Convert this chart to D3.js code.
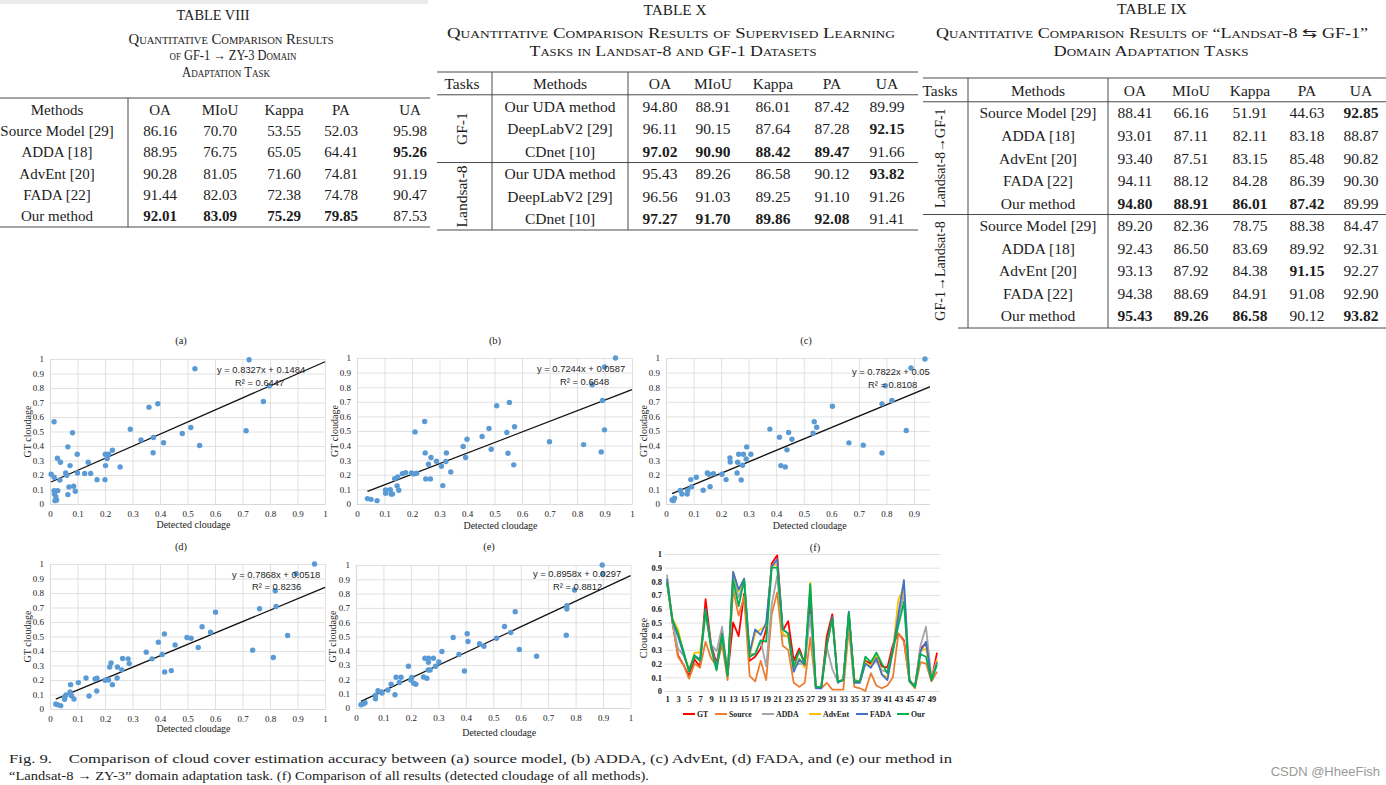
<!DOCTYPE html>
<html><head><meta charset="utf-8">
<script src="https://cdn.jsdelivr.net/npm/d3@7/dist/d3.min.js"></script>
<style>
html,body{margin:0;padding:0;background:#fff;}
svg{display:block;}
</style></head>
<body>
<svg id="chart" width="1386" height="785"></svg>
<script>
// ================= DATA =================
const tableHeaders = ["OA","MIoU","Kappa","PA","UA"];

// TABLE VIII
const t8Methods = ["Source Model [29]","ADDA [18]","AdvEnt [20]","FADA [22]","Our method"];
const t8Values = [
  [86.16,70.70,53.55,52.03,95.98],
  [88.95,76.75,65.05,64.41,95.26],
  [90.28,81.05,71.60,74.81,91.19],
  [91.44,82.03,72.38,74.78,90.47],
  [92.01,83.09,75.29,79.85,87.53]];
const t8Bold = [[0,0,0,0,0],[0,0,0,0,1],[0,0,0,0,0],[0,0,0,0,0],[1,1,1,1,0]];

// TABLE X
const t10Tasks = ["GF-1","Landsat-8"];
const t10Methods = ["Our UDA method","DeepLabV2 [29]","CDnet [10]","Our UDA method","DeepLabV2 [29]","CDnet [10]"];
const t10Values = [
  [94.80,88.91,86.01,87.42,89.99],
  [96.11,90.15,87.64,87.28,92.15],
  [97.02,90.90,88.42,89.47,91.66],
  [95.43,89.26,86.58,90.12,93.82],
  [96.56,91.03,89.25,91.10,91.26],
  [97.27,91.70,89.86,92.08,91.41]];
const t10Bold = [[0,0,0,0,0],[0,0,0,0,1],[1,1,1,1,0],[0,0,0,0,1],[0,0,0,0,0],[1,1,1,1,0]];

// TABLE IX
const t9Tasks = ["Landsat-8\u2192GF-1","GF-1\u2192Landsat-8"];
const t9Methods = ["Source Model [29]","ADDA [18]","AdvEnt [20]","FADA [22]","Our method",
                   "Source Model [29]","ADDA [18]","AdvEnt [20]","FADA [22]","Our method"];
const t9Values = [
  [88.41,66.16,51.91,44.63,92.85],
  [93.01,87.11,82.11,83.18,88.87],
  [93.40,87.51,83.15,85.48,90.82],
  [94.11,88.12,84.28,86.39,90.30],
  [94.80,88.91,86.01,87.42,89.99],
  [89.20,82.36,78.75,88.38,84.47],
  [92.43,86.50,83.69,89.92,92.31],
  [93.13,87.92,84.38,91.15,92.27],
  [94.38,88.69,84.91,91.08,92.90],
  [95.43,89.26,86.58,90.12,93.82]];
const t9Bold = [[0,0,0,0,1],[0,0,0,0,0],[0,0,0,0,0],[0,0,0,0,0],[1,1,1,1,0],
                [0,0,0,0,0],[0,0,0,0,0],[0,0,0,1,0],[0,0,0,0,0],[1,1,1,0,1]];

// Scatter plots: [detected, GT]
const scatterA = [[0.527,0.933],[0.724,0.995],[0.798,0.816],[0.776,0.707],[0.713,0.505],[0.36,0.668],[0.392,0.691],
  [0.292,0.516],[0.481,0.486],[0.512,0.528],[0.544,0.403],[0.331,0.442],[0.376,0.459],[0.413,0.422],[0.375,0.353],
  [0.227,0.371],[0.201,0.343],[0.213,0.343],[0.208,0.313],[0.202,0.265],[0.255,0.256],[0.139,0.288],[0.2,0.168],
  [0.171,0.168],[0.126,0.21],[0.148,0.21],[0.1,0.214],[0.099,0.343],[0.082,0.491],[0.065,0.394],[0.015,0.567],
  [0.027,0.316],[0.038,0.288],[0.073,0.265],[0.057,0.214],[0.061,0.198],[0.004,0.205],[0.015,0.184],[0.036,0.166],
  [0.069,0.118],[0.086,0.122],[0.092,0.088],[0.065,0.065],[0.015,0.092],[0.028,0.092],[0.016,0.069],[0.021,0.051],
  [0.018,0.023],[0.024,0.028]];
const scatterB = [[0.94,1.0],[0.9,0.938],[0.855,0.817],[0.893,0.709],[0.9,0.508],[0.888,0.357],[0.824,0.407],
  [0.7,0.426],[0.508,0.673],[0.554,0.696],[0.573,0.529],[0.545,0.49],[0.48,0.517],[0.455,0.462],[0.488,0.375],
  [0.549,0.348],[0.57,0.268],[0.4,0.444],[0.386,0.394],[0.395,0.318],[0.341,0.22],[0.325,0.35],[0.323,0.291],
  [0.289,0.293],[0.307,0.259],[0.269,0.318],[0.26,0.272],[0.248,0.35],[0.246,0.565],[0.211,0.494],[0.25,0.172],
  [0.267,0.172],[0.312,0.126],[0.206,0.206],[0.217,0.211],[0.198,0.213],[0.177,0.215],[0.165,0.208],[0.148,0.185],
  [0.137,0.174],[0.146,0.124],[0.152,0.094],[0.121,0.098],[0.104,0.096],[0.104,0.073],[0.124,0.069],[0.129,0.069],
  [0.038,0.037],[0.051,0.032],[0.073,0.023]];
const scatterC = [[0.94,0.993],[0.889,0.931],[0.796,0.81],[0.784,0.686],[0.82,0.709],[0.872,0.503],[0.784,0.35],
  [0.716,0.403],[0.664,0.419],[0.604,0.67],[0.538,0.563],[0.547,0.526],[0.534,0.485],[0.445,0.49],[0.457,0.444],
  [0.412,0.458],[0.439,0.371],[0.377,0.513],[0.417,0.263],[0.433,0.254],[0.293,0.391],[0.308,0.341],[0.291,0.309],
  [0.264,0.341],[0.281,0.341],[0.26,0.286],[0.278,0.265],[0.232,0.316],[0.233,0.288],[0.258,0.213],[0.273,0.165],
  [0.218,0.167],[0.203,0.204],[0.172,0.208],[0.155,0.204],[0.15,0.213],[0.16,0.119],[0.135,0.094],[0.11,0.183],
  [0.09,0.167],[0.093,0.119],[0.079,0.094],[0.077,0.069],[0.058,0.069],[0.052,0.092],[0.031,0.039],[0.027,0.023],
  [0.022,0.027]];
const scatterD = [[0.962,1.0],[0.895,0.933],[0.819,0.816],[0.822,0.707],[0.762,0.691],[0.864,0.507],[0.737,0.406],
  [0.812,0.355],[0.602,0.668],[0.553,0.567],[0.584,0.53],[0.498,0.493],[0.513,0.488],[0.539,0.424],[0.455,0.442],
  [0.416,0.518],[0.394,0.461],[0.408,0.376],[0.35,0.392],[0.371,0.346],[0.417,0.256],[0.441,0.265],[0.284,0.346],
  [0.264,0.348],[0.288,0.313],[0.261,0.27],[0.245,0.29],[0.222,0.318],[0.217,0.29],[0.244,0.214],[0.213,0.2],
  [0.2,0.198],[0.227,0.168],[0.171,0.212],[0.164,0.207],[0.131,0.214],[0.17,0.124],[0.142,0.09],[0.103,0.182],
  [0.075,0.168],[0.073,0.118],[0.058,0.097],[0.078,0.092],[0.087,0.069],[0.053,0.081],[0.053,0.067],[0.021,0.035],
  [0.027,0.03],[0.039,0.023]];
const scatterE = [[0.897,1.0],[0.899,0.937],[0.796,0.825],[0.768,0.715],[0.768,0.692],[0.766,0.509],[0.595,0.409],
  [0.658,0.362],[0.58,0.673],[0.541,0.57],[0.564,0.528],[0.512,0.488],[0.45,0.449],[0.466,0.432],[0.405,0.519],
  [0.408,0.465],[0.354,0.493],[0.375,0.374],[0.395,0.259],[0.313,0.395],[0.302,0.322],[0.282,0.348],[0.29,0.292],
  [0.264,0.348],[0.251,0.348],[0.264,0.32],[0.263,0.266],[0.27,0.266],[0.191,0.292],[0.203,0.213],[0.164,0.215],
  [0.146,0.215],[0.2,0.196],[0.21,0.173],[0.218,0.166],[0.246,0.217],[0.258,0.208],[0.158,0.178],[0.128,0.166],
  [0.142,0.093],[0.116,0.126],[0.08,0.121],[0.094,0.112],[0.095,0.105],[0.071,0.089],[0.071,0.065],[0.033,0.037],
  [0.027,0.03],[0.018,0.023]];
const trendSlopes = [0.8327,0.7244,0.7822,0.7868,0.8958];
const trendIntercepts = [0.1484,0.0587,0.054,0.0518,0.0297];
const trendR2 = [0.6447,0.6648,0.8108,0.8236,0.8812];
const axisTicks = [0,0.1,0.2,0.3,0.4,0.5,0.6,0.7,0.8,0.9,1];

// Line chart (f)
const imageIndex = d3.range(1,51);
const seriesNames = ["GT","Source","ADDA","AdvEnt","FADA","Our"];
const seriesColors = ["#FF0000","#ED7D31","#A5A5A5","#FFC000","#4472C4","#00B050"];
const gtValues = [0.80,0.50,0.26,0.19,0.11,0.23,0.18,0.67,0.34,0.20,0.42,0.12,0.50,0.40,0.71,0.22,0.25,0.31,0.45,0.93,
  0.99,0.44,0.51,0.22,0.31,0.20,0.63,0.03,0.03,0.40,0.56,0.07,0.08,0.56,0.08,0.07,0.22,0.20,0.26,0.18,
  0.17,0.34,0.42,0.37,0.08,0.03,0.31,0.35,0.08,0.28];
const sourceValues = [0.80,0.50,0.25,0.19,0.09,0.20,0.17,0.36,0.24,0.18,0.34,0.08,0.74,0.55,0.69,0.11,0.07,0.22,0.08,0.56,
  0.72,0.33,0.30,0.06,0.03,0.06,0.39,0.03,0.02,0.06,0.01,0.01,0.01,0.46,0.03,0.02,0.00,0.13,0.04,0.02,
  0.04,0.10,0.42,0.36,0.07,0.02,0.21,0.20,0.07,0.14];
const addaValues = [0.85,0.50,0.31,0.26,0.16,0.25,0.22,0.55,0.34,0.29,0.47,0.12,0.85,0.68,0.81,0.27,0.27,0.37,0.18,0.63,
  0.84,0.40,0.40,0.18,0.20,0.19,0.56,0.03,0.03,0.32,0.16,0.07,0.08,0.55,0.07,0.07,0.20,0.18,0.22,0.15,
  0.14,0.28,0.52,0.72,0.08,0.03,0.33,0.47,0.09,0.22];
const adventValues = [0.80,0.53,0.45,0.28,0.15,0.28,0.28,0.58,0.32,0.17,0.42,0.12,0.87,0.73,0.81,0.26,0.42,0.45,0.48,0.91,
  0.93,0.42,0.39,0.16,0.24,0.17,0.79,0.03,0.03,0.33,0.53,0.07,0.08,0.56,0.07,0.07,0.21,0.18,0.27,0.12,
  0.10,0.30,0.67,0.75,0.08,0.03,0.29,0.31,0.09,0.23];
const fadaValues = [0.82,0.51,0.40,0.27,0.15,0.26,0.23,0.60,0.33,0.17,0.42,0.12,0.87,0.74,0.82,0.28,0.45,0.41,0.50,0.91,
  0.96,0.45,0.42,0.14,0.23,0.19,0.73,0.02,0.02,0.33,0.54,0.06,0.08,0.58,0.06,0.06,0.20,0.17,0.24,0.12,
  0.08,0.30,0.56,0.81,0.08,0.03,0.29,0.36,0.08,0.21];
const ourValues = [0.79,0.52,0.42,0.29,0.14,0.26,0.22,0.59,0.31,0.15,0.41,0.11,0.81,0.62,0.81,0.25,0.27,0.37,0.36,0.90,
  0.90,0.45,0.42,0.18,0.29,0.20,0.78,0.03,0.03,0.34,0.53,0.07,0.08,0.57,0.07,0.07,0.25,0.21,0.28,0.20,
  0.13,0.30,0.48,0.65,0.07,0.03,0.27,0.25,0.08,0.19];
const lineAxisTicks = [0,0.1,0.2,0.3,0.4,0.5,0.6,0.7,0.8,0.9,1];
const lineXLabels = d3.range(1,50,2);

// ================= DRAW =================
const SERIF = "'Liberation Serif','Times New Roman',serif";
const SANS = "'Liberation Sans',Arial,sans-serif";
const INK = "#1c1c1c";
const svg = d3.select("#chart");
svg.append("rect").attr("x",0).attr("y",0).attr("width",1386).attr("height",785).attr("fill","#fff");
svg.append("rect").attr("x",0).attr("y",0).attr("width",428).attr("height",4).attr("fill","#ebebeb");

function txt(g, x, y, s, o={}){
  const t = g.append("text").attr("x",x).attr("y",y).attr("dy","0.35em")
    .attr("font-family",o.family||SERIF).attr("font-size",o.size||15)
    .attr("font-weight",o.bold?"bold":"normal").attr("fill",o.fill||INK)
    .attr("text-anchor",o.anchor||"middle").text(s);
  if(o.sc) t.style("font-variant","small-caps").style("font-variant-caps","small-caps");
  if(o.len) t.attr("textLength",o.len).attr("lengthAdjust","spacingAndGlyphs");
  if(o.rot) t.attr("transform",`rotate(-90,${x},${y})`);
  return t;
}
function hline(g,x1,x2,y,w=1){ g.append("line").attr("x1",x1).attr("x2",x2).attr("y1",y).attr("y2",y).attr("stroke","#4a4a4a").attr("stroke-width",w); }
function vline(g,x,y1,y2,w=1){ g.append("line").attr("x1",x).attr("x2",x).attr("y1",y1).attr("y2",y2).attr("stroke","#4a4a4a").attr("stroke-width",w); }

// ---------- TABLE VIII ----------
{
  const g = svg.append("g");
  txt(g,213,15,"TABLE VIII",{size:14,len:73});
  txt(g,231,39,"Quantitative Comparison Results",{size:14,sc:true,len:205});
  txt(g,233,55,"of GF-1 \u2192 ZY-3 Domain",{size:14,sc:true,len:127});
  txt(g,226,72,"Adaptation Task",{size:14,sc:true,len:88});
  const col = d3.scaleOrdinal().domain(["Methods",...tableHeaders]).range([57,160,220,284,341,410]);
  const row = d3.scalePoint().domain(d3.range(t8Methods.length+1)).range([109.5,216]);
  hline(g,0,430,98); hline(g,0,430,227); vline(g,128,98,227);
  ["Methods",...tableHeaders].forEach(h=>txt(g,col(h),row(0),h));
  t8Methods.forEach((m,i)=>{
    txt(g,col("Methods"),row(i+1),m);
    tableHeaders.forEach((h,j)=>txt(g,col(h),row(i+1),t8Values[i][j].toFixed(2),{bold:t8Bold[i][j]}));
  });
}

// ---------- TABLE X ----------
{
  const g = svg.append("g");
  txt(g,675,10,"TABLE X",{size:14,len:63});
  txt(g,671,33,"Quantitative Comparison Results of Supervised Learning",{size:14,sc:true,len:448});
  txt(g,673,51,"Tasks in Landsat-8 and GF-1 Datasets",{size:14,sc:true,len:287});
  const col = d3.scaleOrdinal().domain(["Tasks","Methods",...tableHeaders]).range([462,560,660,713,773,832,887]);
  const row = d3.scalePoint().domain(d3.range(t10Methods.length+1)).range([83.5,219]);
  hline(g,437,918,72); hline(g,437,918,(row(0)+row(1))/2); hline(g,437,918,(row(3)+row(4))/2); hline(g,437,918,230);
  vline(g,492,72,230); vline(g,628,72,230);
  ["Tasks","Methods",...tableHeaders].forEach(h=>txt(g,col(h),row(0),h,{size:15.5}));
  t10Tasks.forEach((t,k)=>txt(g,col("Tasks"),(row(k*3+1)+row(k*3+3))/2,t,{size:15.5,rot:true}));
  t10Methods.forEach((m,i)=>{
    txt(g,col("Methods"),row(i+1),m,{size:15.5});
    tableHeaders.forEach((h,j)=>txt(g,col(h),row(i+1),t10Values[i][j].toFixed(2),{size:15.5,bold:t10Bold[i][j]}));
  });
}

// ---------- TABLE IX ----------
{
  const g = svg.append("g");
  txt(g,1152,9,"TABLE IX",{size:14,len:70});
  txt(g,1152,33,"Quantitative Comparison Results of \u201CLandsat-8 \u21C6 GF-1\u201D",{size:14,sc:true,len:432});
  txt(g,1151,51,"Domain Adaptation Tasks",{size:14,sc:true,len:195});
  const col = d3.scaleOrdinal().domain(["Tasks","Methods",...tableHeaders]).range([940,1038,1135,1191,1250,1307,1361]);
  const row = d3.scalePoint().domain(d3.range(t9Methods.length+1)).range([90.5,316]);
  hline(g,923,1386,78); hline(g,923,1386,(row(0)+row(1))/2); hline(g,923,1386,(row(5)+row(6))/2); hline(g,958,1386,328);
  vline(g,968,78,328); vline(g,1108,78,328);
  ["Tasks","Methods",...tableHeaders].forEach(h=>txt(g,col(h),row(0),h,{size:15.5}));
  t9Tasks.forEach((t,k)=>txt(g,col("Tasks"),(row(k*5+1)+row(k*5+5))/2,t,{size:14,rot:true}));
  t9Methods.forEach((m,i)=>{
    txt(g,col("Methods"),row(i+1),m,{size:15.5});
    tableHeaders.forEach((h,j)=>txt(g,col(h),row(i+1),t9Values[i][j].toFixed(2),{size:15.5,bold:t9Bold[i][j]}));
  });
}

// ---------- sub-figure letters ----------
[["(a)",181,340],["(b)",495,340],["(c)",806,340],["(d)",181,546],["(e)",489,546],["(f)",815,547]]
  .forEach(d=>txt(svg,d[1],d[2],d[0],{size:10.5}));

// ---------- SCATTER PLOTS ----------
const scatterCfg = [
  {data:scatterA,k:0,x0:50,x1:325,y0:504,y1:359,clipR:333,yTitleX:27,xTitleY:524,eq:[217,370],r2:[235,383]},
  {data:scatterB,k:1,x0:357,x1:632,y0:504,y1:358,clipR:640,yTitleX:334,xTitleY:525,eq:[537,369],r2:[560,382]},
  {data:scatterC,k:2,x0:666,x1:941.5,y0:504,y1:358,clipR:930,yTitleX:643,xTitleY:525,eq:[852,372],r2:[868,385]},
  {data:scatterD,k:3,x0:50,x1:325,y0:709,y1:564,clipR:333,yTitleX:27,xTitleY:728,eq:[232,575],r2:[252,587]},
  {data:scatterE,k:4,x0:356,x1:630.5,y0:708,y1:565,clipR:640,yTitleX:332,xTitleY:732,eq:[533,574],r2:[553,587]}
];
scatterCfg.forEach((c,ci)=>{
  const id = "clipS"+ci;
  svg.append("clipPath").attr("id",id).append("rect")
    .attr("x",c.x0-60).attr("y",c.y1-20).attr("width",c.clipR-(c.x0-60)).attr("height",(c.y0-c.y1)+60);
  const g = svg.append("g").attr("clip-path",`url(#${id})`);
  const x = d3.scaleLinear().domain([0,1]).range([c.x0,c.x1]);
  const y = d3.scaleLinear().domain([0,1]).range([c.y0,c.y1]);
  const gx = g.append("g").attr("transform",`translate(0,${c.y0})`)
    .call(d3.axisBottom(x).tickValues(axisTicks).tickFormat(d=>String(d)).tickSize(-(c.y0-c.y1)).tickSizeOuter(0).tickPadding(7));
  const gy = g.append("g").attr("transform",`translate(${c.x0},0)`)
    .call(d3.axisLeft(y).tickValues(axisTicks).tickFormat(d=>String(d)).tickSize(-(c.x1-c.x0)).tickSizeOuter(0).tickPadding(6));
  [gx,gy].forEach(a=>{
    a.select(".domain").attr("stroke","#d9d9d9");
    a.selectAll(".tick line").attr("stroke","#d9d9d9").attr("stroke-width",0.8);
    a.selectAll("text").attr("font-family",SERIF).attr("font-size",9).attr("fill","#222");
  });
  // trendline
  const minX = d3.min(c.data,d=>d[0]);
  const f = v=>trendSlopes[c.k]*v+trendIntercepts[c.k];
  g.append("path").datum([minX,1]).attr("fill","none").attr("stroke","#111").attr("stroke-width",1.3)
    .attr("d",d3.line().x(d=>x(d)).y(d=>y(f(d))));
  // points
  g.append("g").selectAll("circle").data(c.data).join("circle")
    .attr("cx",d=>x(d[0])).attr("cy",d=>y(d[1])).attr("r",2.7).attr("fill","#5B9BD5");
  // equation
  txt(g,c.eq[0],c.eq[1],`y = ${trendSlopes[c.k]}x + ${trendIntercepts[c.k]}`,{family:SANS,size:9.4,anchor:"start",fill:"#262626"});
  txt(g,c.r2[0],c.r2[1],`R\u00B2 = ${trendR2[c.k]}`,{family:SANS,size:9.4,anchor:"start",fill:"#262626"});
  // axis titles
  txt(g,(c.x0+c.x1)/2+6,c.xTitleY,"Detected cloudage",{size:10});
  txt(svg,c.yTitleX,(c.y0+c.y1)/2,"GT cloudage",{size:10,rot:true});
});

// ---------- LINE CHART (f) ----------
{
  const g = svg.append("g");
  const x = d3.scalePoint().domain(imageIndex).range([667,937]);
  const y = d3.scaleLinear().domain([0,1]).range([691,554]);
  const gy = g.append("g").attr("transform","translate(665,0)")
    .call(d3.axisLeft(y).tickValues(lineAxisTicks).tickFormat(d=>String(d)).tickSize(-275).tickSizeOuter(0).tickPadding(3));
  gy.select(".domain").remove();
  gy.selectAll(".tick line").attr("stroke","#d9d9d9").attr("stroke-width",0.8);
  gy.selectAll("text").attr("font-family",SERIF).attr("font-size",8.5).attr("font-weight","bold").attr("fill","#222");
  const gx = g.append("g").attr("transform","translate(0,691)")
    .call(d3.axisBottom(x).tickValues(lineXLabels).tickSize(0).tickPadding(5));
  gx.select(".domain").remove();
  gx.selectAll("text").attr("font-family",SERIF).attr("font-size",8.5).attr("font-weight","bold").attr("fill","#222");
  const allSeries = [gtValues,sourceValues,addaValues,adventValues,fadaValues,ourValues];
  const line = d3.line().x((d,i)=>x(imageIndex[i])).y(d=>y(d));
  allSeries.forEach((s,i)=>{
    g.append("path").datum(s).attr("fill","none").attr("stroke",seriesColors[i])
      .attr("stroke-width",1.8).attr("stroke-linejoin","round").attr("d",line);
  });
  txt(g,643,638,"Cloudage",{size:10.5,rot:true});
  const legendX = [683,715,762,809,856,897];
  seriesNames.forEach((n,i)=>{
    g.append("line").attr("x1",legendX[i]).attr("x2",legendX[i]+12).attr("y1",714).attr("y2",714)
      .attr("stroke",seriesColors[i]).attr("stroke-width",2);
    txt(g,legendX[i]+14,714,n,{size:7.8,bold:true,anchor:"start",fill:"#222"});
  });
}

// ---------- caption ----------
txt(svg,9,758,"Fig. 9.\u2003Comparison of cloud cover estimation accuracy between (a) source model, (b) ADDA, (c) AdvEnt, (d) FADA, and (e) our method in",{size:13,anchor:"start",len:943,fill:"#222"});
txt(svg,9,775,"\u201CLandsat-8 \u2192 ZY-3\u201D domain adaptation task. (f) Comparison of all results (detected cloudage of all methods).",{size:13,anchor:"start",len:640,fill:"#222"});

// watermark
txt(svg,1380,771,"CSDN @HheeFish",{family:SANS,size:13,anchor:"end",fill:"#9a9a9a"});
</script>
</body></html>
